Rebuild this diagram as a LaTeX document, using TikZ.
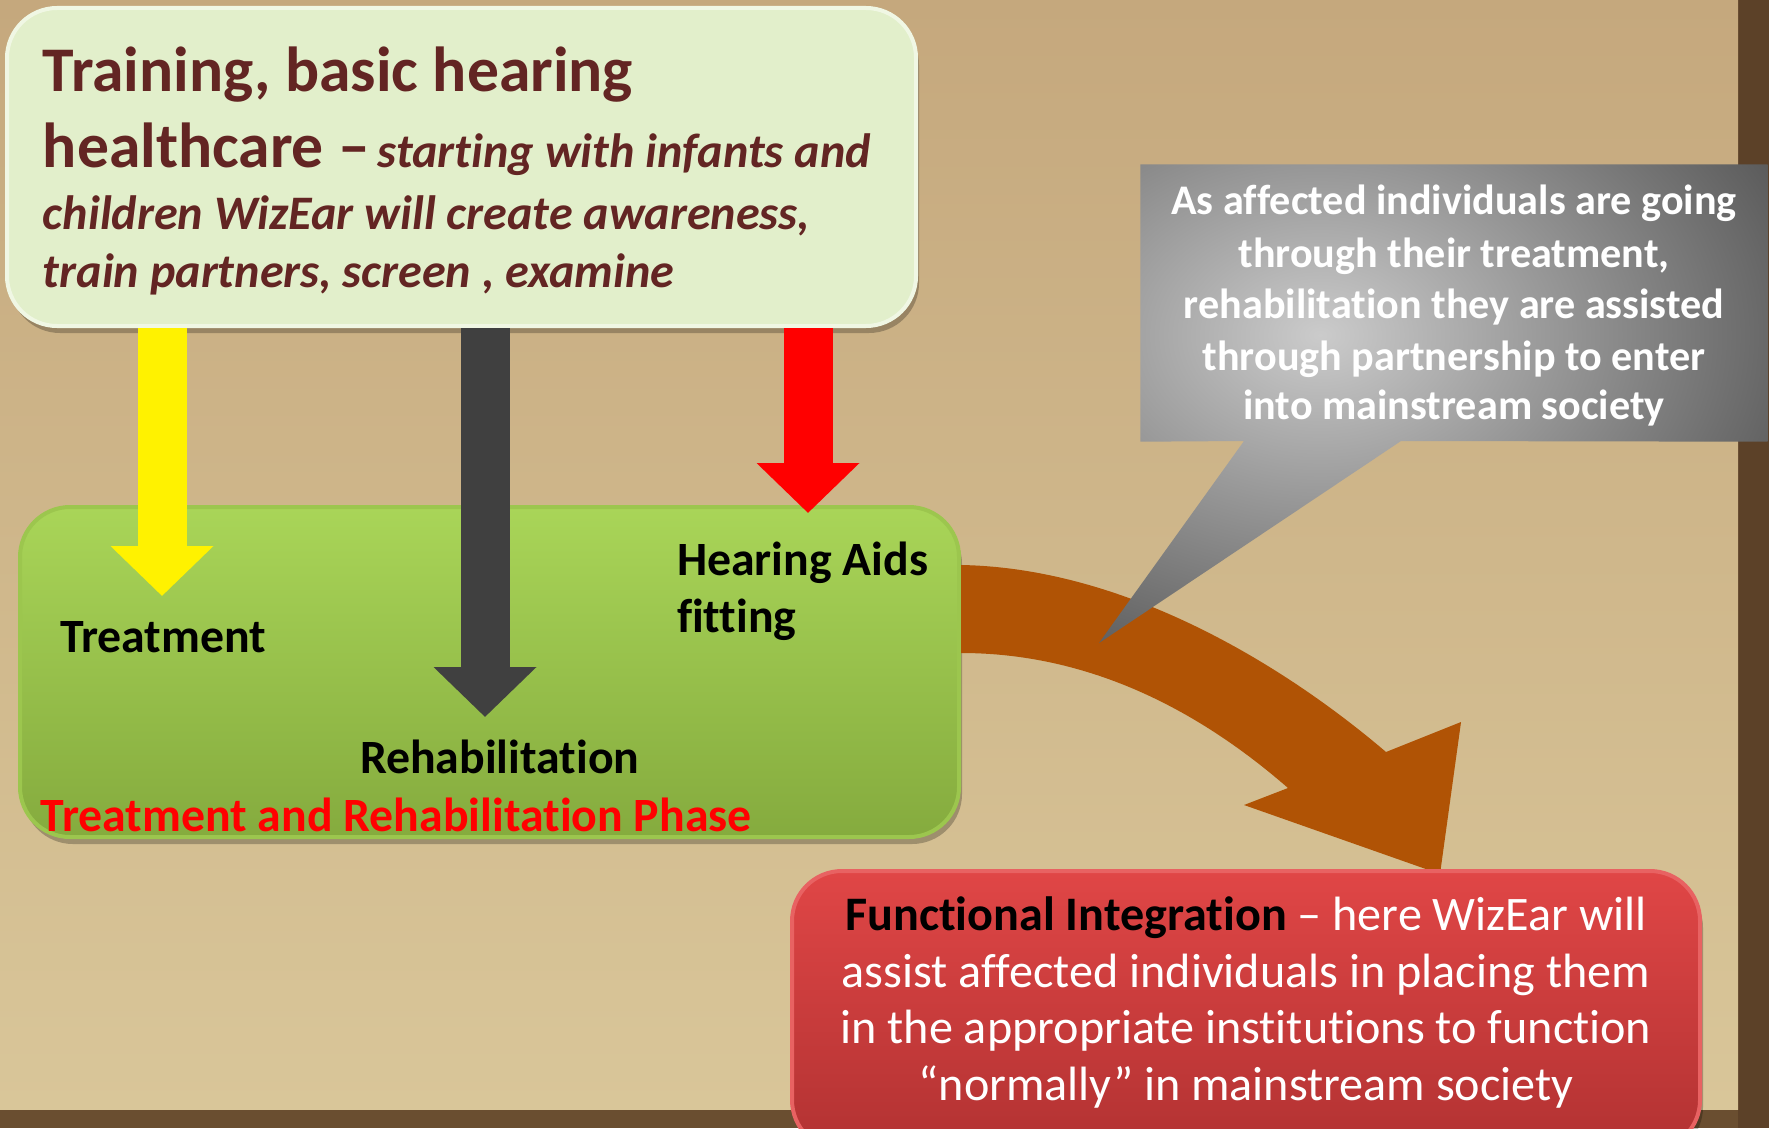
\documentclass[tikz,border=0pt]{standalone}
\usepackage{fontspec}
\setmainfont{Carlito}[Ligatures={NoCommon}]
\usetikzlibrary{arrows.meta,shadows,fit}
\definecolor{frameA}{HTML}{5C4128}
\definecolor{frameB}{HTML}{6A4E30}
\definecolor{parchTop}{HTML}{C5A87D}
\definecolor{parchBot}{HTML}{D9C699}
\definecolor{topFill}{HTML}{E2EFCB}
\definecolor{topRim}{HTML}{F0F7E4}
\definecolor{maroonTxt}{HTML}{632523}
\definecolor{greenTop}{HTML}{A9D558}
\definecolor{greenBot}{HTML}{85AB3E}
\definecolor{greenRim}{HTML}{9CC64E}
\definecolor{darkArrow}{HTML}{404040}
\definecolor{orangeArrow}{HTML}{B05305}
\definecolor{redTop}{HTML}{E04646}
\definecolor{redBot}{HTML}{B23232}
\definecolor{redRim}{HTML}{E86262}
\definecolor{calloutIn}{HTML}{CBCBCB}
\definecolor{calloutOut}{HTML}{121212}
\newcommand\mytitlefont{\fontsize{18.1}{21}\selectfont\bfseries}
\newcommand\myitfont{\fontsize{13.7}{16}\selectfont\bfseries\itshape}
\newcommand\mylblfont{\fontsize{13.6}{16}\selectfont\bfseries}
\newcommand\mycallfont{\fontsize{12}{14.5}\selectfont\bfseries}
\newcommand\myredfont{\fontsize{13.7}{16.4}\selectfont}
\tikzset{
  txt/.style={inner sep=0pt, outer sep=0pt},
  boxshadow/.style={drop shadow={shadow xshift=0.3mm, shadow yshift=-0.7mm, opacity=0.25, fill=black}},
  blockarrow/.style={line width=4.9mm, -{Triangle[width=10mm,length=5mm]}},
  roundbox/.style={inner sep=0pt, rounded corners=5mm},
}
\begin{document}
\begin{tikzpicture}[x=0.1mm,y=-0.1mm]
\useasboundingbox (0,0) rectangle (1769,1128);
% background
\fill[frameA] (0,0) rectangle (1769,1128);
\fill[frameB] (0,1109) rectangle (1738,1128);
\shade[top color=parchTop, bottom color=parchBot] (0,0) rectangle (1738,1109);

% green phase box
\node[fit={(20,507) (959,837)}, roundbox, top color=greenTop, bottom color=greenBot, draw=greenRim, line width=0.4mm, boxshadow] (green) {};

% top box
\node[fit={(7,8) (916,326)}, roundbox, fill=topFill, draw=topRim, line width=0.4mm, boxshadow] (top) {};

% block arrows
\coordinate (yTip) at (162,596);
\coordinate (dTip) at (485,717);
\coordinate (rTip) at (808,513);
\draw[blockarrow, color=yellow] (top.south -| yTip) -- (yTip);
\draw[blockarrow, color=darkArrow] (top.south -| dTip) -- (dTip);
\draw[blockarrow, color=red] (top.south -| rTip) -- (rTip);

% top box text
\node[txt, anchor=base west, text=maroonTxt, font=\mytitlefont] (t1) at (43,92) {Training, basic hearing};
\node[txt, anchor=base west, text=maroonTxt] (t2) at (43,168) {{\mytitlefont healthcare –} {\myitfont starting with infants and}};
\node[txt, anchor=base west, text=maroonTxt, font=\myitfont] (t3) at (43,230) {children WizEar will create awareness,};
\node[txt, anchor=base west, text=maroonTxt, font=\myitfont] (t4) at (43,287) {train partners, screen , examine};

% green box labels
\node[txt, anchor=base west, font=\mylblfont] (treat) at (60,652) {Treatment};
\node[txt, anchor=base west, font=\mylblfont] (rehab) at (360,773) {Rehabilitation};
\node[txt, anchor=base west, font=\mylblfont] (hear1) at (677,575) {Hearing Aids};
\node[txt, anchor=base west, font=\mylblfont] (hear2) at (677,632) {fitting};
\node[txt, anchor=base west, font=\mylblfont, text=red] (phase) at (41,831) {Treatment and Rehabilitation Phase};

% orange curved arrow
\coordinate (oS1) at (green.east |- 0,565);
\coordinate (oS2) at (green.east |- 0,653);
\fill[orangeArrow] (oS1) .. controls (1130,568) and (1290,670) .. (1386,752)
  -- (1461,722) -- (1440,874) -- (1244,805) -- (1288,788)
  .. controls (1210,720) and (1100,653) .. (oS2) -- cycle;

% callout
\node[fit={(1141,165) (1767,441)}, inner sep=0pt] (call) {};
\begin{scope}
  \clip (call.north west) -- (call.north east) -- (call.south east) -- (1401,441) -- (1099,643) -- (1244,441) -- (call.south west) -- cycle;
  \shade[inner color=calloutIn, outer color=calloutOut] (1320,335) ellipse (840 and 600);
\end{scope}
\node[txt, anchor=base, text=white, font=\mycallfont] (c1) at (1454,215) {As affected individuals are going};
\node[txt, anchor=base, text=white, font=\mycallfont] (c2) at (1454,267) {through their treatment,};
\node[txt, anchor=base, text=white, font=\mycallfont] (c3) at (1454,318) {rehabilitation they are assisted};
\node[txt, anchor=base, text=white, font=\mycallfont] (c4) at (1454,370) {through partnership to enter};
\node[txt, anchor=base, text=white, font=\mycallfont] (c5) at (1454,419) {into mainstream society};

% red box
\node[fit={(792,871) (1700,1150)}, roundbox, top color=redTop, bottom color=redBot, draw=redRim, line width=0.4mm, boxshadow] (redbox) {};
\node[txt, anchor=base, text=white, font=\myredfont] (r1) at (1246,930) {\textcolor{black}{\bfseries Functional Integration} – here WizEar will};
\node[txt, anchor=base, text=white, font=\myredfont] (r2) at (1246,987) {assist affected individuals in placing them};
\node[txt, anchor=base, text=white, font=\myredfont] (r3) at (1246,1043) {in the appropriate institutions to function};
\node[txt, anchor=base, text=white, font=\myredfont] (r4) at (1246,1100) {“normally” in mainstream society};
\end{tikzpicture}
\end{document}
